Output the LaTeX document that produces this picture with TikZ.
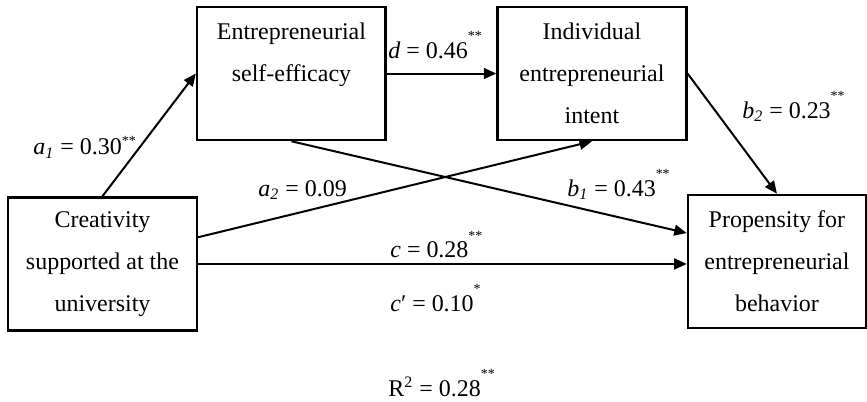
\documentclass[tikz,border=0pt]{standalone}
\usepackage{fontspec}
\setmainfont{Liberation Serif}
\usetikzlibrary{arrows.meta}

\tikzset{
  box/.style={draw, line width=1.3pt, align=center, minimum width=3.32cm, minimum height=2.34cm, inner sep=0pt, font=\fontsize{12}{21}\selectfont},
  link/.style={draw, line width=1pt, -{Triangle[length=2.2mm,width=1.9mm]}},
  coef/.style={anchor=base west, inner sep=0pt, font=\fontsize{12}{14}\selectfont}
}
\newcommand{\pathname}[2]{\textit{#1}\textsubscript{\textit{#2}}}
\newcommand{\stars}[2][1.6ex]{\raisebox{#1}{\scriptsize #2}}

\begin{document}
\begin{tikzpicture}[x=1cm,y=1cm]
\useasboundingbox (0,0) rectangle (15.26,-7.075);
\node[box] (creativity) at (1.804,-4.646) {Creativity\\supported at the\\university};
\node[box] (efficacy) at (5.130,-1.294) {Entrepreneurial\\self-efficacy\\\mbox{}};
\node[box] (intent) at (10.419,-1.294) {Individual\\entrepreneurial\\intent};
\node[box, minimum width=3.13cm] (propensity) at (13.675,-4.602) {Propensity for\\entrepreneurial\\behavior};
\draw[link] (creativity.north) -- (efficacy.west);
\draw[link] (efficacy.east) -- (intent.west);
\draw[link] ([yshift=0.47cm]creativity.east) -- (intent.south);
\draw[link] (efficacy.south) -- ([yshift=0.5cm]propensity.west);
\draw[link] (creativity.east) -- (creativity.east -| propensity.west);
\draw[link] (intent.east) -- (propensity.north);
\node[coef] (aone) at (0.581,-2.728) {\pathname{a}{1} = 0.30\stars[0.9ex]{**}};
\node[coef] (dpath) at (6.829,-1.021) {\textit{d} = 0.46\stars{**}};
\node[coef] (atwo) at (4.541,-3.450) {\pathname{a}{2} = 0.09};
\node[coef] (bone) at (9.979,-3.450) {\pathname{b}{1} = 0.43\stars{**}};
\node[coef] (btwo) at (13.059,-2.077) {\pathname{b}{2} = 0.23\stars{**}};
\node[coef] (ctotal) at (6.864,-4.541) {\textit{c} = 0.28\stars{**}};
\node[coef] (cdirect) at (6.864,-5.474) {\textit{c}′ = 0.10\stars{*}};
\node[coef] (rsq) at (6.829,-6.970) {R\textsuperscript{2} = 0.28\stars{**}};
\end{tikzpicture}
\end{document}
